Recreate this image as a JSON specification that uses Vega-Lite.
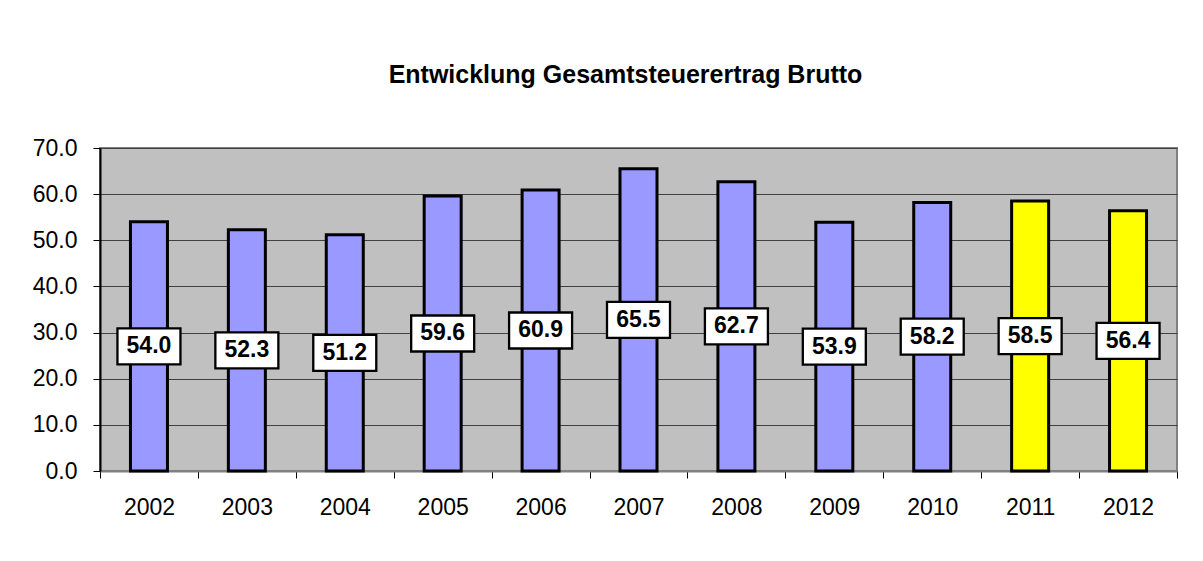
{
  "$schema": "https://vega.github.io/schema/vega-lite/v6.json",
  "width": 1077,
  "height": 323,
  "autosize": {"type": "none"},
  "padding": {"left": 100, "top": 148, "right": 26, "bottom": 90},
  "background": "white",
  "title": {"text": "Entwicklung Gesamtsteuerertrag Brutto", "font": "Liberation Sans", "fontSize": 25, "fontWeight": "bold", "color": "black", "anchor": "middle", "dx": -13, "offset": 49},
  "config": {"view": {"fill": "#c0c0c0", "stroke": "#808080", "strokeWidth": 2}},
  "data": {"values": [
    {"year": "2002", "value": 54.0, "type": "Ist"},
    {"year": "2003", "value": 52.3, "type": "Ist"},
    {"year": "2004", "value": 51.2, "type": "Ist"},
    {"year": "2005", "value": 59.6, "type": "Ist"},
    {"year": "2006", "value": 60.9, "type": "Ist"},
    {"year": "2007", "value": 65.5, "type": "Ist"},
    {"year": "2008", "value": 62.7, "type": "Ist"},
    {"year": "2009", "value": 53.9, "type": "Ist"},
    {"year": "2010", "value": 58.2, "type": "Ist"},
    {"year": "2011", "value": 58.5, "type": "Budget"},
    {"year": "2012", "value": 56.4, "type": "Budget"}
  ]},
  "encoding": {
    "x": {"field": "year", "type": "nominal", "sort": null, "title": null,
      "scale": {"paddingInner": 0, "paddingOuter": 0},
      "axis": {"labelAngle": 0, "labelFont": "Liberation Sans", "labelFontSize": 23, "labelColor": "black", "labelPadding": 18, "tickBand": "extent", "tickColor": "black", "tickSize": 7, "domainColor": "#808080", "domainWidth": 2}}
  },
  "layer": [
    {
      "mark": {"type": "bar", "size": 37, "stroke": "black", "strokeWidth": 3},
      "encoding": {
        "y": {"field": "value", "type": "quantitative", "title": null,
          "scale": {"domain": [0, 70], "nice": false},
          "axis": {"values": [0, 10, 20, 30, 40, 50, 60, 70], "format": ".1f", "labelFont": "Liberation Sans", "labelFontSize": 23, "labelColor": "black", "labelPadding": 16, "tickColor": "black", "tickSize": 7, "domainColor": "black", "domainWidth": 2, "grid": true, "gridColor": "#404040", "gridWidth": 1}},
        "color": {"field": "type", "type": "nominal", "scale": {"domain": ["Ist", "Budget"], "range": ["#9999ff", "#ffff00"]}, "legend": null}
      }
    },
    {
      "mark": {"type": "point", "shape": "M-1.75,-1H1.75V1H-1.75Z", "size": 1296, "filled": true, "fill": "white", "stroke": "black", "strokeWidth": 2.3, "opacity": 1},
      "encoding": {
        "y": {"field": "value", "type": "quantitative", "scale": {"domain": [0, 140], "nice": false}, "axis": null}
      }
    },
    {
      "mark": {"type": "text", "font": "Liberation Sans", "fontSize": 23, "fontWeight": "bold", "color": "black"},
      "encoding": {
        "y": {"field": "value", "type": "quantitative", "scale": {"domain": [0, 140], "nice": false}, "axis": null},
        "text": {"field": "value", "type": "quantitative", "format": ".1f"}
      }
    }
  ],
  "resolve": {"scale": {"y": "independent"}}
}
